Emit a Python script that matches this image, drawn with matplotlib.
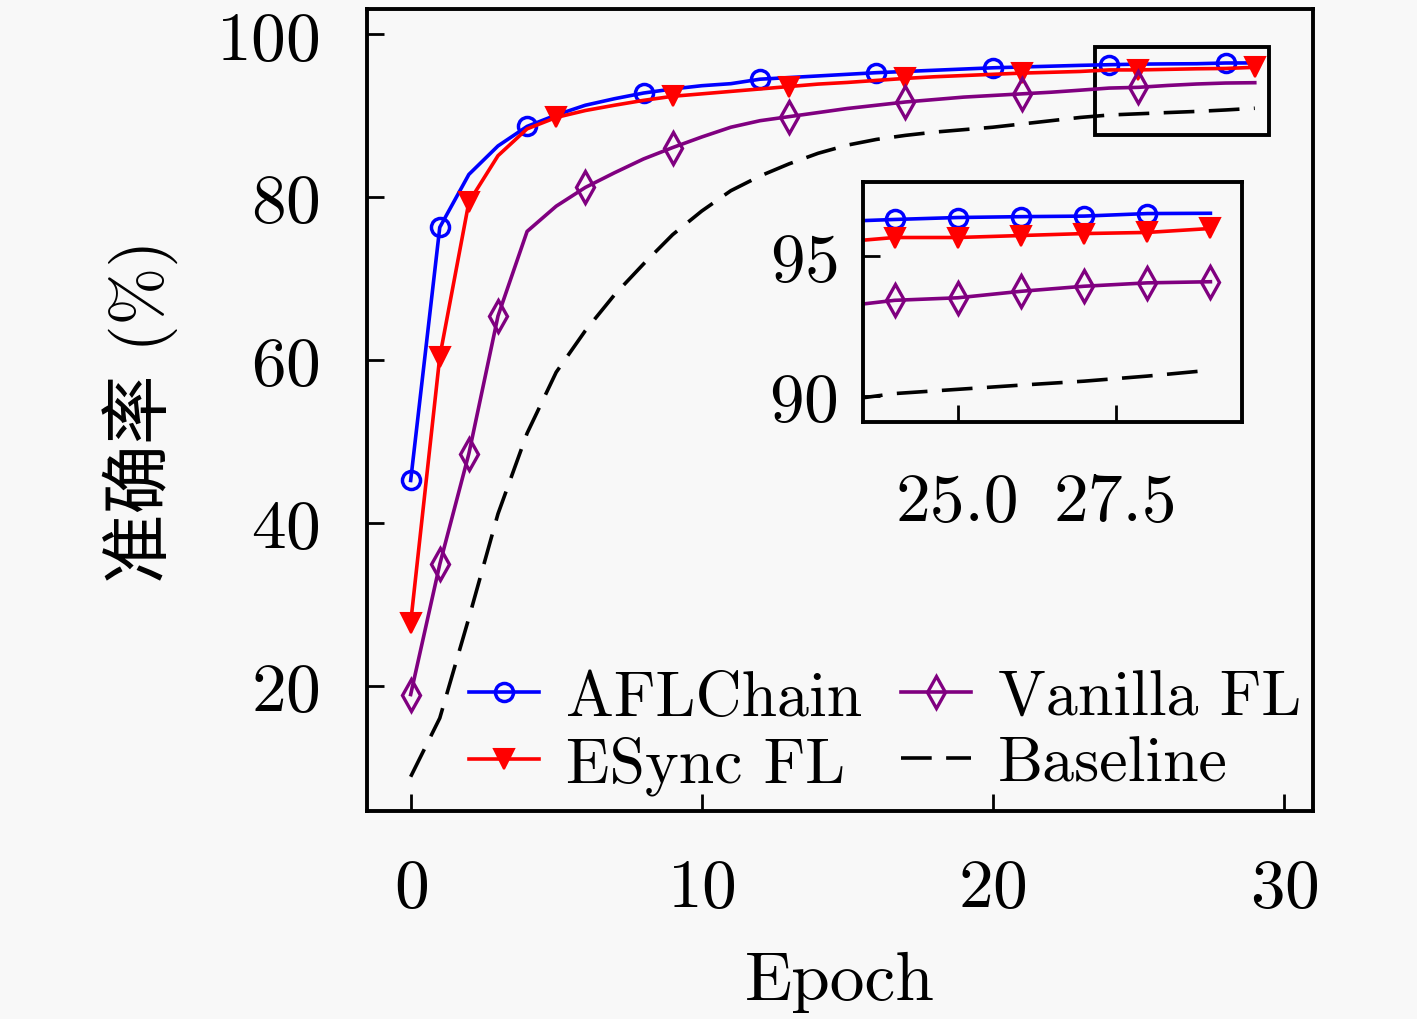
import matplotlib
matplotlib.use('Agg')
import matplotlib.pyplot as plt
from matplotlib.lines import Line2D
from matplotlib.patches import Rectangle
import numpy as np

plt.rcParams['font.family'] = 'serif'
plt.rcParams['font.serif'] = ['cmr10']
plt.rcParams['mathtext.fontset'] = 'cm'
plt.rcParams['axes.formatter.use_mathtext'] = True

# data
epoch = np.arange(30)
aflchain = [45.2, 76.3, 82.8, 86.3, 88.7, 90.1, 91.3, 92.1, 92.8, 93.3,
            93.7, 93.95, 94.5, 94.7, 94.9, 95.1, 95.3, 95.45, 95.6, 95.75,
            95.9, 96.0, 96.1, 96.2, 96.28, 96.35, 96.38, 96.4, 96.49, 96.5]
esync = [27.7, 60.4, 79.4, 85.1, 88.4, 89.8, 90.65, 91.3, 91.9, 92.4,
         92.7, 93.0, 93.3, 93.6, 93.9, 94.1, 94.35, 94.6, 94.8, 94.95,
         95.1, 95.25, 95.35, 95.45, 95.64, 95.64, 95.71, 95.78, 95.82, 95.96]
vanilla = [18.9, 34.9, 48.5, 65.4, 75.8, 78.9, 81.2, 83.0, 84.7, 86.1,
           87.4, 88.6, 89.4, 89.9, 90.4, 90.9, 91.3, 91.7, 92.0, 92.3,
           92.5, 92.7, 92.9, 93.15, 93.41, 93.5, 93.73, 93.91, 94.03, 94.07]
baseline = [8.8, 16.0, 28.3, 41.1, 51.0, 58.5, 63.6, 68.0, 71.8, 75.4,
            78.3, 80.8, 82.6, 84.1, 85.4, 86.4, 87.1, 87.6, 88.0, 88.3,
            88.6, 89.0, 89.4, 89.8, 90.1, 90.25, 90.4, 90.54, 90.72, 90.93]
labels = ['AFLChain', 'ESync FL', 'Vanilla FL', 'Baseline']

bg = '#f8f8f8'
fs = 50
lw = 2.6

fig = plt.figure(figsize=(14.17, 10.2), dpi=100, facecolor=bg)
ax = fig.add_axes([0.259, 0.204, 0.6676, 0.786], facecolor=bg)

styles = [
    dict(color='#0000ff', marker='o', ms=13, mfc='none', mew=2.5),
    dict(color='#ff0000', marker='v', ms=14, mfc='#ff0000', mew=1.5),
    dict(color='#800080', marker='d', ms=16, mfc='none', mew=2.4),
    dict(color='black', linestyle=(0, (8.5, 4))),
]
main_every = [[0, 1, 4, 8, 12, 16, 20, 24, 28],
              [0, 1, 2, 5, 9, 13, 17, 21, 25, 29],
              [0, 1, 2, 3, 6, 9, 13, 17, 21, 25],
              None]
inset_every = [[24, 25, 26, 27, 28],
               [24, 25, 26, 27, 28, 29],
               [24, 25, 26, 27, 28, 29],
               None]
series = [aflchain, esync, vanilla, baseline]

for ys, st, me in zip(series, styles, main_every):
    ax.plot(epoch, ys, lw=lw, markevery=me, **st)

ax.set_xlim(-1.5, 31)
ax.set_ylim(4.6, 103.1)
ax.set_xticks([0, 10, 20, 30])
ax.set_yticks([20, 40, 60, 80, 100])
ax.tick_params(direction='in', length=12, width=2, labelsize=fs, pad=34)
for s in ax.spines.values():
    s.set_linewidth(2.8)

ax.set_xlabel('Epoch', fontsize=fs)
ax.xaxis.set_label_coords(0.5, -0.175)
ax.set_ylabel('准确率 (%)', fontsize=fs, family=['cmr10', 'Noto Sans CJK SC'])
ax.yaxis.set_label_coords(-0.2, 0.5)

# zoom region box
box_x, box_y, box_w, box_h = 23.5, 87.7, 6.0, 10.7
ax.add_patch(Rectangle((box_x, box_y), box_w, box_h, fill=False,
                       lw=2.8, edgecolor='black', zorder=1))

handles = [Line2D([], [], lw=lw, **st) for st in styles]
ax.legend(handles, labels, loc='lower left', bbox_to_anchor=(0.108, 0.02),
          ncol=2, frameon=False, fontsize=46, handlelength=1.1,
          handletextpad=0.42, columnspacing=0.6, labelspacing=0.12,
          borderpad=0, borderaxespad=0)

# inset
axins = fig.add_axes([0.609, 0.585, 0.2675, 0.2353], facecolor=bg)
for ys, st, me in zip(series, styles, inset_every):
    axins.plot(epoch, ys, lw=lw, markevery=me, **st)
axins.set_xlim(23.5, 29.5)
axins.set_ylim(89.08, 97.6)
axins.set_xticks([25.0, 27.5])
axins.set_xticklabels(['25.0', '27.5'])
axins.set_yticks([90, 95])
axins.tick_params(direction='in', length=12, width=2, labelsize=fs)
axins.tick_params(axis='x', pad=36)
axins.tick_params(axis='y', pad=18)
for s in axins.spines.values():
    s.set_linewidth(2.8)

fig.savefig('out.png', dpi=100, facecolor=bg)
